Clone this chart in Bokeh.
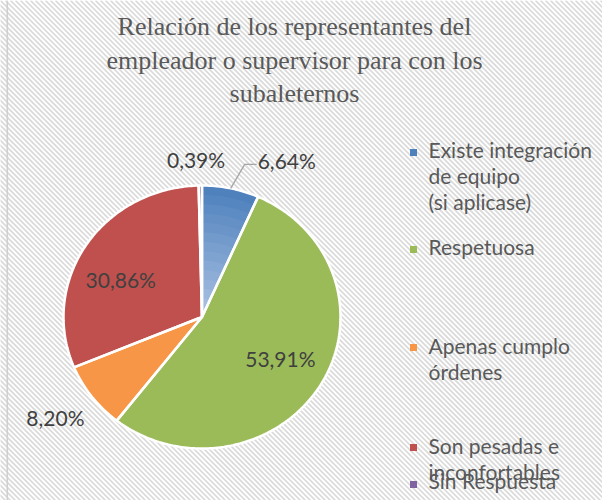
import math
from bokeh.plotting import figure
from bokeh.models import Range1d
from bokeh.embed import file_html
from bokeh.resources import INLINE
from bokeh.core.properties import value

# ---------------- data ----------------
title_lines = ["Relación de los representantes del",
               "empleador o supervisor para con los",
               "subaleternos"]
categories = ["Existe integración de equipo (si aplicase)", "Respetuosa",
              "Apenas cumplo órdenes", "Son pesadas e inconfortables", "Sin Respuesta"]
legend_lines = [["Existe integración", "de equipo", "(si aplicase)"],
                ["Respetuosa"],
                ["Apenas cumplo", "órdenes"],
                ["Son pesadas e", "inconfortables"],
                ["Sin Respuesta"]]
percents = [6.64, 53.91, 8.20, 30.86, 0.39]
labels = ["6,64%", "53,91%", "8,20%", "30,86%", "0,39%"]
colors = ["#4F81BD", "#9BBB59", "#F79646", "#C0504D", "#8064A2"]

# ---------------- layout ----------------
W, H = 602, 500
def X(px): return px
def Y(py): return H - py

cx, cy = X(201.5), Y(316.5)
RX, RY = 138.5, 131.5
label_r = [1.0, 0.66, 1.33, 0.70, 1.17]          # radial factor for each label
label_nudge = [(0, 4), (0, 3), (0, 5), (0, -13), (-4, 4)]  # px nudges
legend_base = [149, 246, 345, 445, 480]          # page y of first-line text baseline
legend_box = [152, 249, 347, 447, 484]           # page y of legend squares
legend_step = 26

p = figure(width=W, height=H, x_range=Range1d(0, W), y_range=Range1d(0, H),
           output_backend="svg", toolbar_location=None, min_border=0)
p.axis.visible = False
p.grid.visible = False
p.outline_line_color = None
p.background_fill_color = "white"
p.border_fill_color = "white"

# diagonal striped background ("\\" direction)
period = 5
cs = list(range(0, W + H + period, period))
p.segment(x0=cs, y0=[0] * len(cs), x1=[c - H for c in cs], y1=[H] * len(cs),
          line_color="#dadada", line_width=1.7)
p.line(x=[6.8, 6.8], y=[0, H], line_color="#cfcfcf", line_width=1.6)

# title
for i, t in enumerate(title_lines):
    p.text(x=[X(294)], y=[Y(26 + i * 33.5)], text=[t], text_font=value("Liberation Serif"),
           text_font_size="26px", text_color="#595959", text_align="center",
           text_baseline="alphabetic")

# pie slices (slightly elliptical, as in the reference)
starts, ends, mids = [], [], []
cum = 0.0
for v in percents:
    a0 = math.radians(90 - cum * 3.6)
    cum += v
    a1 = math.radians(90 - cum * 3.6)
    starts.append(a0); ends.append(a1); mids.append((a0 + a1) / 2)

def slice_pts(a0, a1, s=1.0):
    n = max(3, int(abs(a1 - a0) / math.radians(1.0)))
    xs, ys = [cx], [cy]
    for k in range(n + 1):
        a = a0 + (a1 - a0) * k / n
        xs.append(cx + s * RX * math.cos(a)); ys.append(cy + s * RY * math.sin(a))
    return xs, ys

def mix(c1, c2, t):
    a = [int(c1[i:i + 2], 16) for i in (1, 3, 5)]
    b = [int(c2[i:i + 2], 16) for i in (1, 3, 5)]
    return "#%02x%02x%02x" % tuple(round(a[j] + (b[j] - a[j]) * t) for j in range(3))

all_xs, all_ys = [], []
for i in range(len(percents)):
    xs, ys = slice_pts(starts[i], ends[i])
    all_xs.append(xs); all_ys.append(ys)
p.patches(xs=all_xs, ys=all_ys, fill_color=colors, line_color=None)

# gradient shading on the first slice (lighter toward the centre)
N = 14
for k in range(1, N):
    s = 1 - k / N
    xs, ys = slice_pts(starts[0], ends[0], s)
    p.patch(x=xs, y=ys, fill_color=mix(colors[0], "#A9C1E2", k / (N - 1)), line_color=None)

p.patches(xs=all_xs, ys=all_ys, fill_color=None, line_color="white", line_width=2.5)

# labels
lab_font = value("Lato")
for i, lab in enumerate(labels):
    m = mids[i]
    dx, dy = label_nudge[i]
    if i == 0:
        ex, ey = cx + RX * math.cos(m), cy + RY * math.sin(m)
        kx, ky = ex + 14, ey + 24
        p.line(x=[ex, kx, kx + 12], y=[ey, ky, ky], line_color="#a6a6a6", line_width=1.3)
        p.text(x=[kx + 13], y=[ky + dy], text=[lab], text_font=lab_font, text_font_size="21px",
               text_color="#404040", text_align="left", text_baseline="middle")
    else:
        f = label_r[i]
        p.text(x=[cx + f * RX * math.cos(m) + dx], y=[cy + f * RY * math.sin(m) + dy],
               text=[lab], text_font=lab_font, text_font_size="21px", text_color="#404040",
               text_align="center", text_baseline="middle")

# legend
for i, lines in enumerate(legend_lines):
    b = legend_base[i]
    p.rect(x=[X(413)], y=[Y(legend_box[i])], width=7, height=7, fill_color=colors[i], line_color=None)
    for j, ln in enumerate(lines):
        p.text(x=[X(428)], y=[Y(b + j * legend_step)], text=[ln], text_font=lab_font,
               text_font_size="21px", text_color="#595959", text_align="left",
               text_baseline="alphabetic")

open("out.html", "w").write(file_html(p, INLINE))
